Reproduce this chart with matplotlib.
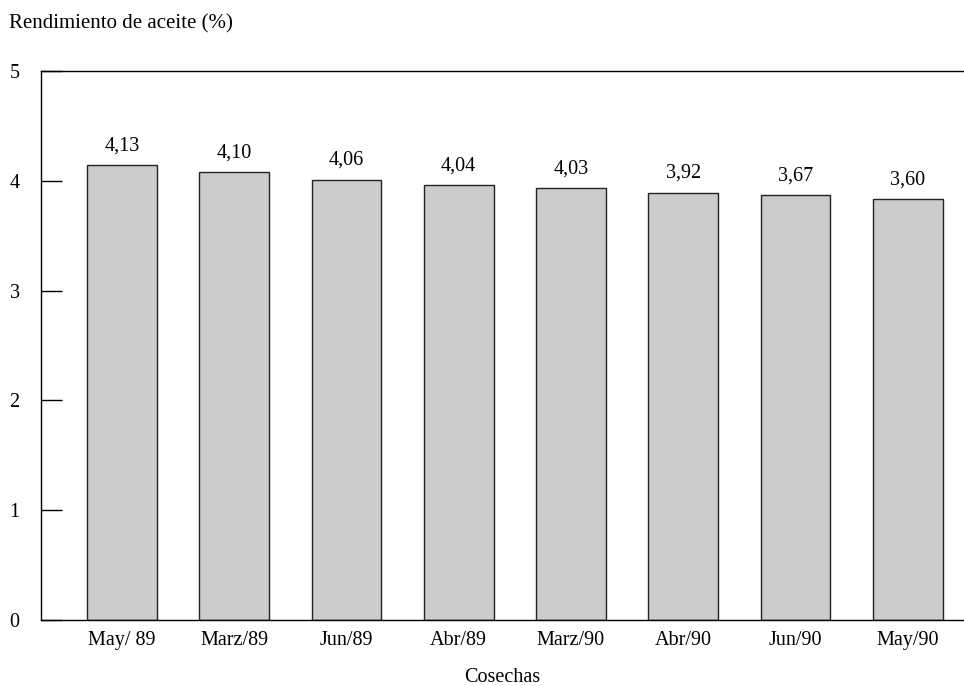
import matplotlib
matplotlib.use("Agg")
import matplotlib.pyplot as plt
import numpy as np

# harvests and oil yield
cosechas = ["May/ 89", "Marz/89", "Jun/89", "Abr/89", "Marz/90", "Abr/90", "Jun/90", "May/90"]
rendimiento = [4.14, 4.08, 4.01, 3.96, 3.93, 3.89, 3.87, 3.83]  # bar heights as drawn
etiquetas = ["4,13", "4,10", "4,06", "4,04", "4,03", "3,92", "3,67", "3,60"]  # printed values
y_ticks = [0, 1, 2, 3, 4, 5]

plt.rcParams["font.family"] = ["Liberation Serif", "DejaVu Serif"]

fig = plt.figure(figsize=(9.64, 6.86), dpi=100)
ax = fig.add_axes([41/964, 1 - 620/686, 1 - 41/964, (620 - 71)/686])

x = np.arange(len(cosechas))
bars = ax.bar(x, rendimiento, width=0.62, color="#cccccc", edgecolor="#222222", linewidth=1.0)

for b, lab in zip(bars, etiquetas):
    ax.annotate(lab, (b.get_x() + b.get_width()/2, b.get_height()),
                xytext=(0, 14), textcoords="offset points",
                ha="center", va="center", fontsize=14.5)

ax.set_xlim(-0.72, 7.5)
ax.set_ylim(0, 5)
ax.set_yticks(y_ticks)
ax.set_xticks(x)
ax.set_xticklabels(cosechas, fontsize=14.5)
ax.tick_params(axis="x", length=0, pad=8)
ax.tick_params(axis="y", direction="in", length=15, width=1, labelsize=14.5)
for lab in ax.get_yticklabels():
    lab.set_horizontalalignment("center")
ax.yaxis.set_tick_params(pad=19)

ax.spines["right"].set_visible(False)
for s in ["left", "top", "bottom"]:
    ax.spines[s].set_linewidth(1.0)

ax.set_xlabel("Cosechas", fontsize=14.5, labelpad=13)
fig.text(9/964, 1 - 24/686, "Rendimiento de aceite (%)", fontsize=15, ha="left", va="center")

fig.savefig("out.png", dpi=100)
